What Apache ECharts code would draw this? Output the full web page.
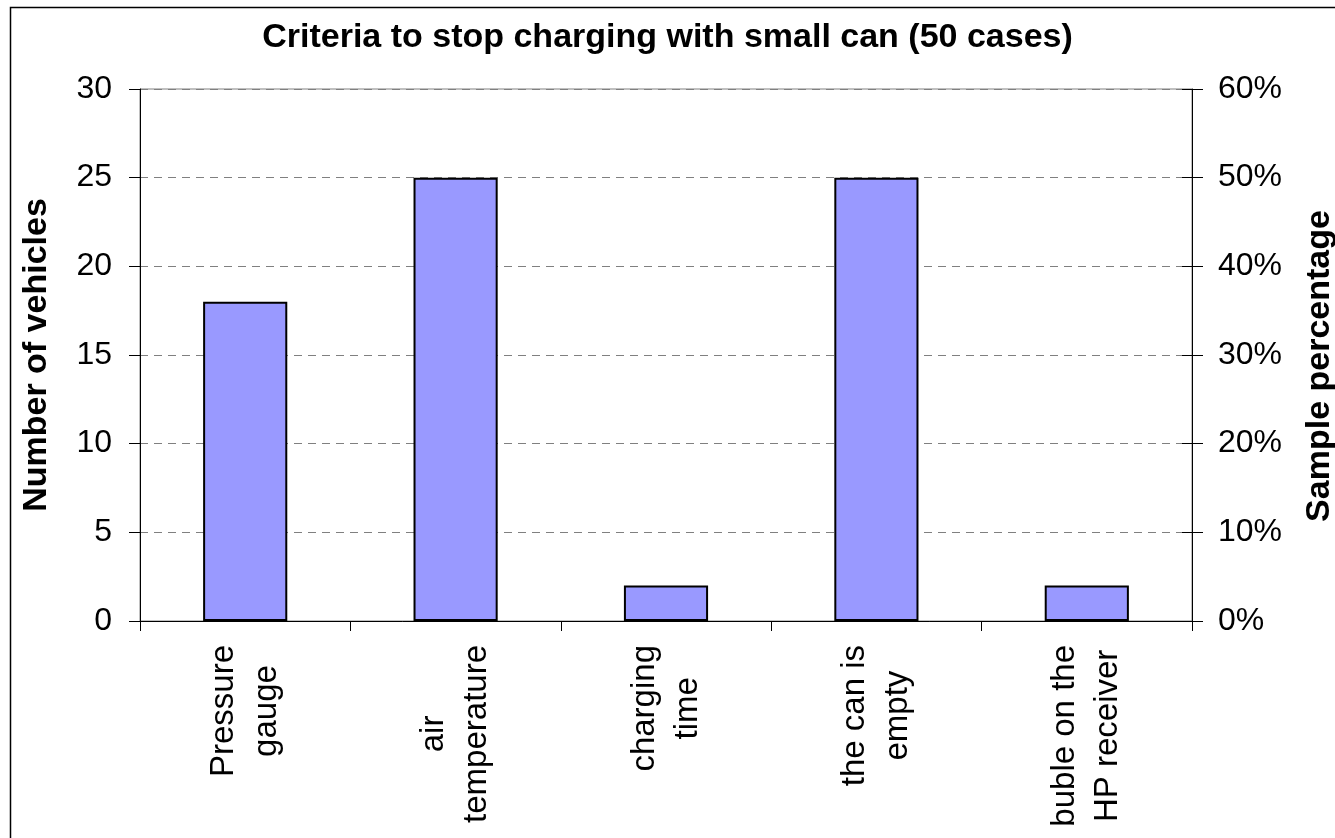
<!DOCTYPE html>
<html>
<head>
<meta charset="utf-8">
<script src="https://cdn.jsdelivr.net/npm/echarts@6/dist/echarts.min.js"></script>
<style>
  html, body { margin: 0; padding: 0; background: #fff; }
  #chart { width: 1335px; height: 838px; }
</style>
</head>
<body>
<div id="chart"></div>
<script>
const categories = ['Pressure\ngauge', 'air\ntemperature', 'charging\ntime', 'the can is\nempty', 'buble on the\nHP receiver'];
const vehicles = [18, 25, 2, 25, 2];
const leftAxis = { min: 0, max: 30, interval: 5 };
const rightAxis = { min: 0, max: 0.6, interval: 0.1 };
const titleText = 'Criteria to stop charging with small can (50 cases)';
const leftName = 'Number of vehicles';
const rightName = 'Sample percentage';

const FONT = '"Liberation Sans", Arial, sans-serif';
const chart = echarts.init(document.getElementById('chart'), null, { renderer: 'canvas' });

chart.setOption({
  backgroundColor: '#ffffff',
  animation: false,
  title: {
    text: titleText,
    left: 'center',
    top: 16,
    textStyle: { fontFamily: FONT, fontSize: 34, fontWeight: 'bold', color: '#000' }
  },
  graphic: [{
    type: 'rect',
    left: 8, top: 5,
    shape: { width: 1500, height: 1000 },
    style: { fill: 'none', stroke: '#000', lineWidth: 1.5 },
    silent: true
  }, {
    type: 'text',
    x: 1320, y: 366,
    rotation: Math.PI / 2,
    style: {
      text: rightName,
      fontFamily: FONT, fontSize: 34, fontWeight: 'bold', fill: '#000',
      align: 'center', verticalAlign: 'middle'
    },
    silent: true
  }],
  grid: {
    left: 140, right: 143, top: 89, bottom: 217,
    show: true, borderColor: '#808080', borderWidth: 1, backgroundColor: 'transparent'
  },
  xAxis: {
    type: 'category',
    data: categories,
    boundaryGap: true,
    axisLine: { lineStyle: { color: '#000', width: 1 } },
    axisTick: { show: true, length: 10, lineStyle: { color: '#000' } },
    axisLabel: {
      rotate: 90,
      margin: 24,
      interval: 0,
      fontFamily: FONT,
      fontSize: 33,
      color: '#000',
      formatter: function (v) {
        return v.split('\n').map(function (s) { return '{c|' + s + '}'; }).join('\n');
      },
      rich: {
        c: { align: 'center', fontFamily: FONT, fontSize: 33, lineHeight: 43, color: '#000' }
      }
    }
  },
  yAxis: [{
    type: 'value',
    position: 'left',
    min: leftAxis.min, max: leftAxis.max, interval: leftAxis.interval,
    name: leftName,
    nameLocation: 'middle',
    nameRotate: 90,
    nameGap: 86,
    nameTextStyle: { fontFamily: FONT, fontSize: 34, fontWeight: 'bold', color: '#000' },
    axisLine: { show: true, lineStyle: { color: '#000', width: 1 } },
    axisTick: { show: true, length: 11, lineStyle: { color: '#000' } },
    axisLabel: { margin: 28, fontFamily: FONT, fontSize: 32, color: '#000' },
    splitLine: { show: true, lineStyle: { color: '#808080', type: [8, 6], width: 1 } }
  }, {
    type: 'value',
    position: 'right',
    min: rightAxis.min, max: rightAxis.max, interval: rightAxis.interval,
    axisLine: { show: true, lineStyle: { color: '#000', width: 1 } },
    axisTick: { show: true, length: 11, lineStyle: { color: '#000' } },
    axisLabel: {
      margin: 26, fontFamily: FONT, fontSize: 32, color: '#000',
      formatter: function (v) { return Math.round(v * 100) + '%'; }
    },
    splitLine: { show: false }
  }, {
    type: 'value',
    position: 'right',
    min: rightAxis.min, max: rightAxis.max, interval: rightAxis.interval,
    axisLine: { show: false },
    axisTick: { show: true, inside: true, length: 10, lineStyle: { color: '#000' } },
    axisLabel: { show: false },
    splitLine: { show: false }
  }],
  series: [{
    type: 'bar',
    yAxisIndex: 0,
    data: vehicles,
    barWidth: '40%',
    itemStyle: { color: '#9999FF', borderColor: '#000', borderWidth: 2 }
  }]
});
</script>
</body>
</html>
